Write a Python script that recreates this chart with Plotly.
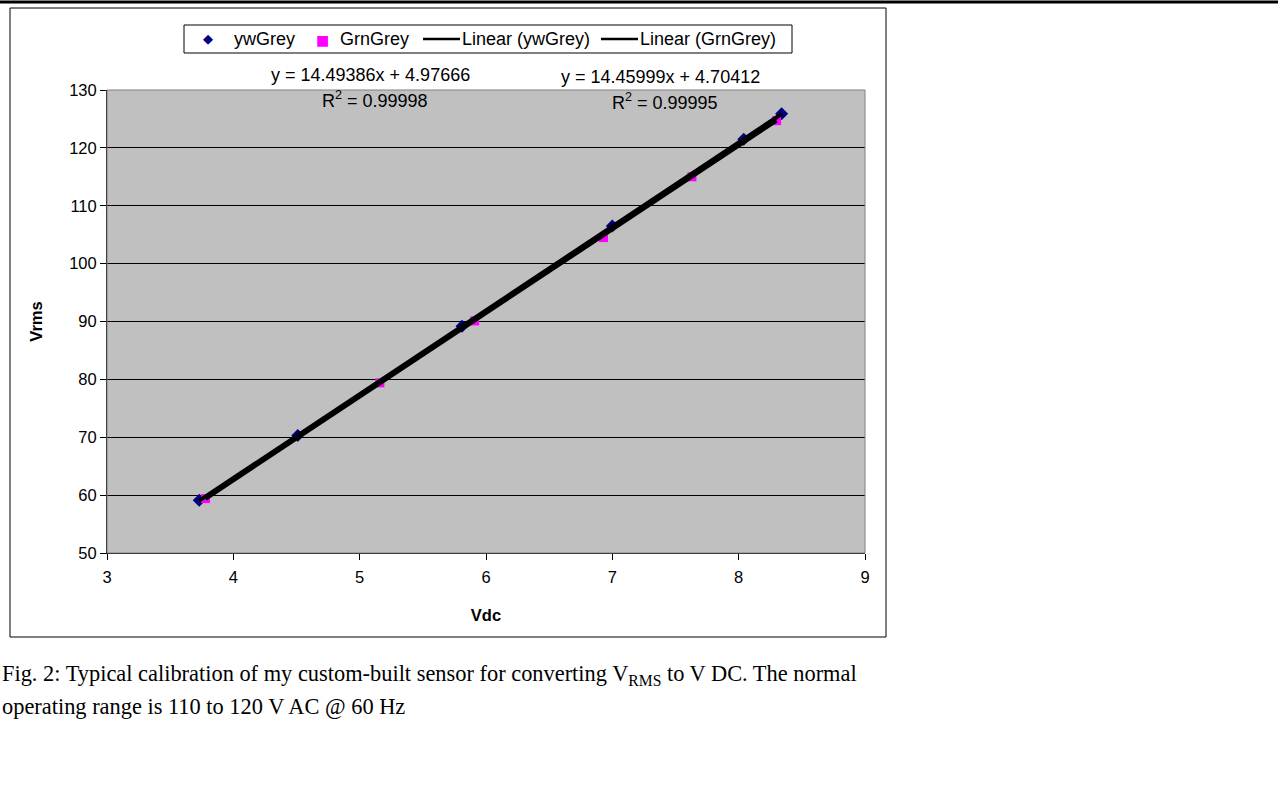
import numpy as np
import plotly.graph_objects as go

# ---- data ----
yw_x = [3.73, 4.51, 5.81, 7.00, 8.04, 8.34]
yw_y = [59.1, 70.3, 89.2, 106.5, 121.5, 125.9]
grn_x = [3.78, 5.16, 5.91, 6.93, 7.63, 8.30]
grn_y = [59.4, 79.4, 90.1, 104.5, 115.0, 124.7]
yw_fit = (14.49386, 4.97666, 0.99998)
grn_fit = (14.45999, 4.70412, 0.99995)
series_names = ["ywGrey", "GrnGrey", "Linear (ywGrey)", "Linear (GrnGrey)"]
x_ticks = [3, 4, 5, 6, 7, 8, 9]
y_ticks = [50, 60, 70, 80, 90, 100, 110, 120, 130]

W, H = 1278, 790
L, R, T, B = 107, 865, 90, 553  # plot area pixel box


def px(xp):
    return (xp - L) / (R - L)


def py(yp):
    return (B - yp) / (B - T)


def trend(xs, fit):
    xx = np.array([min(xs), max(xs)])
    return xx, fit[0] * xx + fit[1]


NAVY, MAGENTA = "#000080", "#FF00FF"
fig = go.Figure()
fig.add_trace(go.Scatter(x=yw_x, y=yw_y, mode="markers", name=series_names[0],
                         marker=dict(symbol="diamond", size=10, color=NAVY)))
fig.add_trace(go.Scatter(x=grn_x, y=grn_y, mode="markers", name=series_names[1],
                         marker=dict(symbol="square", size=9, color=MAGENTA)))
tx, ty = trend(yw_x, yw_fit)
fig.add_trace(go.Scatter(x=tx, y=ty, mode="lines", name=series_names[2],
                         line=dict(color="black", width=4)))
tx, ty = trend(grn_x, grn_fit)
fig.add_trace(go.Scatter(x=tx, y=ty, mode="lines", name=series_names[3],
                         line=dict(color="black", width=4)))

font = "Liberation Sans, Arial, sans-serif"
fs_tick = 16.5
fs_txt = 18
fig.update_layout(
    width=W, height=H,
    margin=dict(l=L, r=W - R, t=T, b=H - B, pad=0),
    paper_bgcolor="white", plot_bgcolor="#C0C0C0",
    font=dict(family=font, size=fs_tick, color="black"),
    showlegend=False,
    xaxis=dict(range=[3, 9], tickvals=x_ticks, showgrid=False, zeroline=False,
               showline=True, linecolor="black", linewidth=1,
               ticks="outside", ticklen=6, tickcolor="black", ticklabelstandoff=3,
               tickfont=dict(size=fs_tick), fixedrange=True,
               title=dict(text="<b>Vdc</b>", font=dict(size=fs_tick), standoff=24)),
    yaxis=dict(range=[50, 130], tickvals=y_ticks, showgrid=True, gridcolor="black",
               gridwidth=1, zeroline=False, showline=True, linecolor="black",
               linewidth=1, ticks="outside", ticklen=6, tickcolor="black",
               tickfont=dict(size=fs_tick), fixedrange=True,
               title=dict(text="<b>Vrms</b>", font=dict(size=fs_tick), standoff=22)),
)

LEG_Y = 39
shapes = [
    # plot-area border (grey)
    dict(type="rect", xref="paper", yref="paper", x0=0, x1=1, y0=0, y1=1,
         line=dict(color="#808080", width=1), layer="above"),
    # outer chart border
    dict(type="rect", xref="paper", yref="paper", x0=px(10), x1=px(886),
         y0=py(637), y1=py(8), line=dict(color="black", width=1)),
    # top page rule
    dict(type="line", xref="paper", yref="paper", x0=px(0), x1=px(1278),
         y0=py(2), y1=py(2), line=dict(color="black", width=3)),
    # legend box
    dict(type="rect", xref="paper", yref="paper", x0=px(184), x1=px(792),
         y0=py(53), y1=py(25), line=dict(color="black", width=1), fillcolor="white"),
    # legend line samples
    dict(type="line", xref="paper", yref="paper", x0=px(423), x1=px(460),
         y0=py(LEG_Y), y1=py(LEG_Y), line=dict(color="black", width=2.5)),
    dict(type="line", xref="paper", yref="paper", x0=px(601), x1=px(638),
         y0=py(LEG_Y), y1=py(LEG_Y), line=dict(color="black", width=2.5)),
]
fig.update_layout(shapes=shapes)

ann = []


def add_text(text, x, y, size=fs_txt, fam=font, xanchor="center", color="black"):
    ann.append(dict(text=text, x=px(x), y=py(y), xref="paper", yref="paper",
                    showarrow=False, xanchor=xanchor, yanchor="middle",
                    font=dict(family=fam, size=size, color=color)))


# legend (symbols + names)
add_text("◆", 208, LEG_Y, size=13, fam="DejaVu Sans", color=NAVY)
add_text("■", 322, LEG_Y + 1, size=14, fam="DejaVu Sans", color=MAGENTA)
add_text(series_names[0], 232, LEG_Y, xanchor="left")
add_text(series_names[1], 338, LEG_Y, xanchor="left")
add_text(series_names[2], 460, LEG_Y, xanchor="left")
add_text(series_names[3], 638, LEG_Y, xanchor="left")

# trendline equations
add_text(f"y = {yw_fit[0]:.5f}x + {yw_fit[1]:.5f}", 370, 75)
add_text(f"R<sup>2</sup> = {yw_fit[2]:.5f}", 375, 99)
add_text(f"y = {grn_fit[0]:.5f}x + {grn_fit[1]:.5f}", 660, 77)
add_text(f"R<sup>2</sup> = {grn_fit[2]:.5f}", 665, 101)

serif = "Liberation Serif, Times New Roman, serif"
add_text("Fig. 2: Typical calibration of my custom-built sensor for converting V<sub>RMS</sub> to V DC. The normal",
         0, 675, size=22.4, fam=serif, xanchor="left")
add_text("operating range is 110 to 120 V AC @ 60 Hz", 0, 706, size=22.4, fam=serif, xanchor="left")
fig.update_layout(annotations=ann)

fig.write_html("out.html", config={"displayModeBar": False},
               post_script="document.body.style.margin='0';")
